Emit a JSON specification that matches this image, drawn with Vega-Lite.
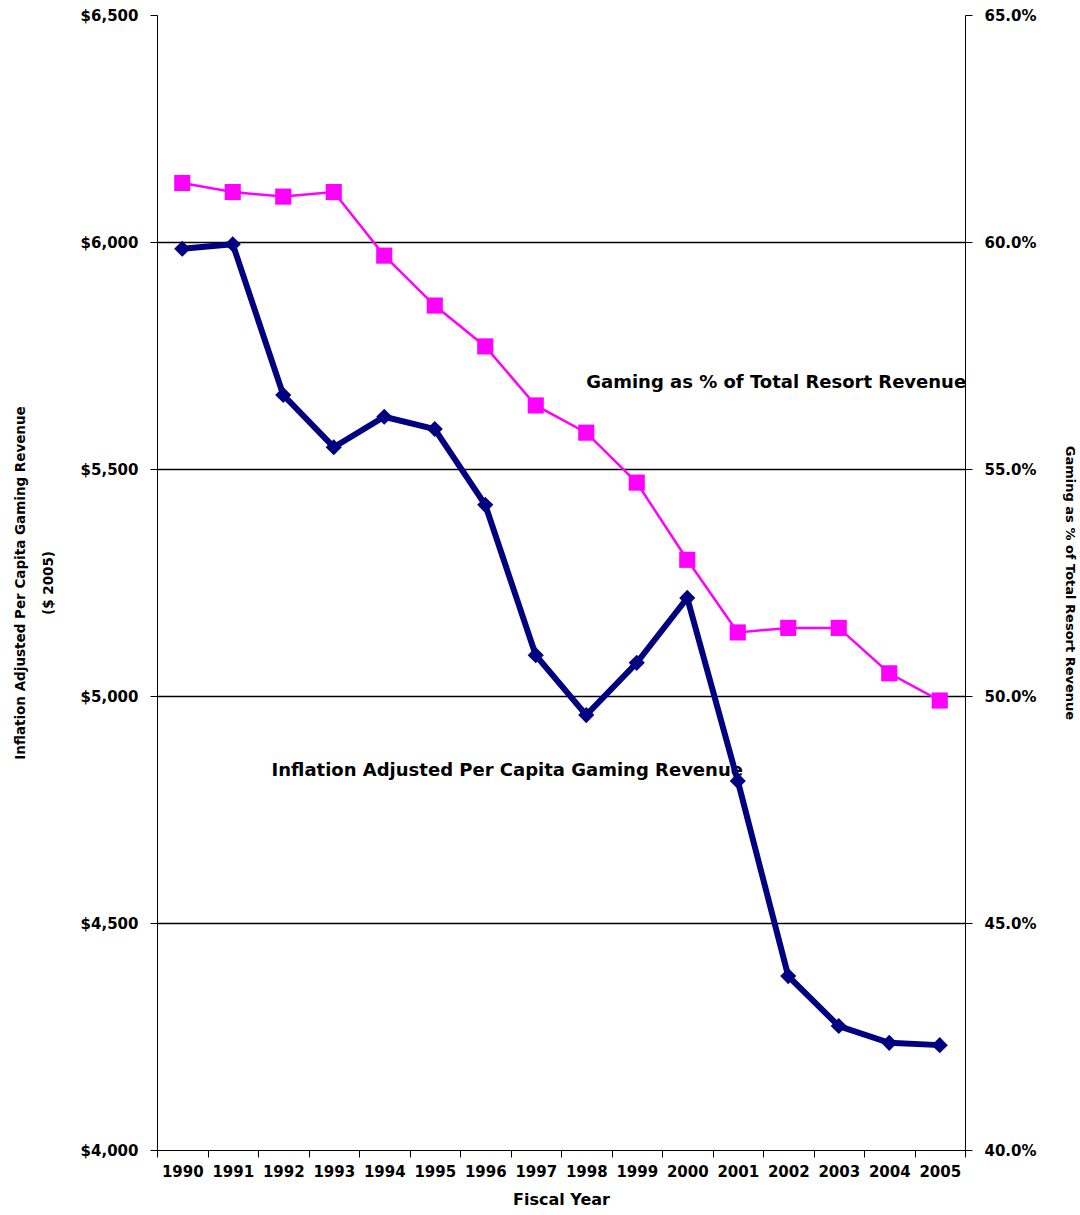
{
  "$schema": "https://vega.github.io/schema/vega-lite/v6.json",
  "width": 808,
  "height": 1135,
  "autosize": {"type": "none"},
  "padding": {"left": 157, "top": 15, "right": 115, "bottom": 65},
  "background": "white",
  "config": {
    "view": {"stroke": null},
    "font": "DejaVu Sans",
    "axis": {
      "domainColor": "#000000",
      "tickColor": "#000000",
      "labelFont": "DejaVu Sans",
      "labelFontWeight": "bold",
      "labelFontSize": 15,
      "labelColor": "#000000",
      "titleFont": "DejaVu Sans",
      "titleFontWeight": "bold",
      "titleFontSize": 13,
      "titleColor": "#000000",
      "tickSize": 7
    }
  },
  "datasets": {
    "revenue": [
      {"year": "1990", "perCapita": 5985, "gamingShare": 0.613},
      {"year": "1991", "perCapita": 5995, "gamingShare": 0.611},
      {"year": "1992", "perCapita": 5663, "gamingShare": 0.610},
      {"year": "1993", "perCapita": 5548, "gamingShare": 0.611},
      {"year": "1994", "perCapita": 5615, "gamingShare": 0.597},
      {"year": "1995", "perCapita": 5588, "gamingShare": 0.586},
      {"year": "1996", "perCapita": 5421, "gamingShare": 0.577},
      {"year": "1997", "perCapita": 5090, "gamingShare": 0.564},
      {"year": "1998", "perCapita": 4958, "gamingShare": 0.558},
      {"year": "1999", "perCapita": 5073, "gamingShare": 0.547},
      {"year": "2000", "perCapita": 5216, "gamingShare": 0.530},
      {"year": "2001", "perCapita": 4813, "gamingShare": 0.514},
      {"year": "2002", "perCapita": 4383, "gamingShare": 0.515},
      {"year": "2003", "perCapita": 4273, "gamingShare": 0.515},
      {"year": "2004", "perCapita": 4236, "gamingShare": 0.505},
      {"year": "2005", "perCapita": 4231, "gamingShare": 0.499}
    ],
    "seriesLabels": [
      {"year": "1996", "perCapita": 4835, "gamingShare": null, "label": "Inflation Adjusted Per Capita Gaming Revenue"},
      {"year": "1998", "perCapita": null, "gamingShare": 0.569, "label": "Gaming as % of Total Resort Revenue"}
    ]
  },
  "encoding": {
    "x": {
      "field": "year",
      "type": "ordinal",
      "bandPosition": 0.5,
      "scale": {"type": "band", "paddingInner": 0, "paddingOuter": 0},
      "axis": {
        "title": "Fiscal Year",
        "titleFontSize": 16,
        "labelAngle": 0,
        "tickBand": "extent",
        "labelPadding": 7,
        "titlePadding": 12,
        "grid": false
      }
    }
  },
  "layer": [
    {
      "encoding": {
        "y": {
          "field": "perCapita",
          "type": "quantitative",
          "scale": {"domain": [4000, 6500], "nice": false, "zero": false},
          "axis": {
            "orient": "left",
            "values": [4000, 4500, 5000, 5500, 6000, 6500],
            "format": "$,d",
            "labelPadding": 12,
            "title": ["Inflation Adjusted Per Capita Gaming Revenue", "($ 2005)"],
            "titleFontSize": 13.5,
            "titleLineHeight": 28,
            "titlePadding": 25,
            "grid": true,
            "gridColor": {"condition": {"test": "datum.value === 4000 || datum.value === 6500", "value": "transparent"}, "value": "#000000"},
            "gridWidth": 1.5
          }
        }
      },
      "layer": [
        {
          "data": {"name": "seriesLabels"},
          "transform": [{"filter": "datum.perCapita != null"}],
          "mark": {"type": "text", "align": "center", "baseline": "middle", "dx": 22, "fontSize": 18, "fontWeight": "bold", "color": "#000000"},
          "encoding": {"text": {"field": "label"}}
        },
        {
          "data": {"name": "revenue"},
          "mark": {"type": "line", "color": "#000080", "strokeWidth": 6, "point": {"shape": "diamond", "size": 260, "filled": true, "color": "#000080"}}
        }
      ]
    },
    {
      "encoding": {
        "y": {
          "field": "gamingShare",
          "type": "quantitative",
          "scale": {"domain": [0.40, 0.65], "nice": false, "zero": false},
          "axis": {
            "orient": "right",
            "values": [0.40, 0.45, 0.50, 0.55, 0.60, 0.65],
            "format": ".1%",
            "labelPadding": 12,
            "title": "Gaming as % of Total Resort Revenue",
            "titleFontSize": 13,
            "titlePadding": 26,
            "grid": false
          }
        }
      },
      "layer": [
        {
          "data": {"name": "seriesLabels"},
          "transform": [{"filter": "datum.gamingShare != null"}],
          "mark": {"type": "text", "align": "left", "baseline": "middle", "fontSize": 18, "fontWeight": "bold", "color": "#000000"},
          "encoding": {"text": {"field": "label"}}
        },
        {
          "data": {"name": "revenue"},
          "mark": {"type": "line", "color": "#FF00FF", "strokeWidth": 2.5, "point": {"shape": "square", "size": 260, "filled": true, "color": "#FF00FF"}}
        }
      ]
    }
  ],
  "resolve": {"scale": {"y": "independent"}}
}
